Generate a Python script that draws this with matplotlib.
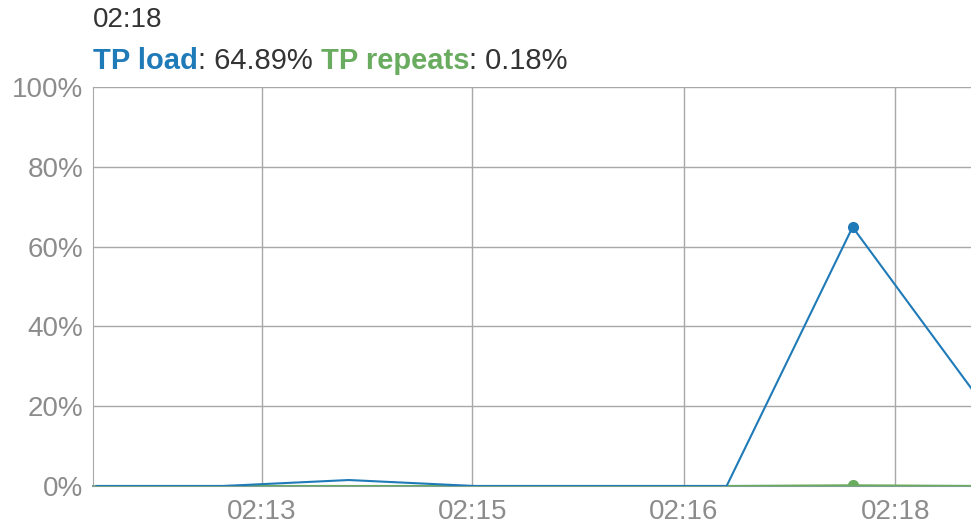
import matplotlib
matplotlib.use('Agg')
import matplotlib.pyplot as plt
from matplotlib.ticker import FuncFormatter

# samples, one per poll interval
sample_idx = [0, 1, 2, 3, 4, 5, 6, 7]
tp_load = [0.0, 0.0, 1.5, 0.0, 0.0, 0.0, 64.89, 22.0]
tp_repeats = [0.0, 0.0, 0.0, 0.0, 0.0, 0.0, 0.18, 0.0]

tick_pos = [1.31, 2.98, 4.66, 6.34]
tick_labels = ["02:13", "02:15", "02:16", "02:18"]
y_ticks = [0, 20, 40, 60, 80, 100]

hover_idx = 6
hover_time = "02:18"

BLUE = "#1f7ab8"
GREEN = "#6aac5f"
GRID = "#a8a8a8"
LABEL = "#8c8c8c"
TEXT = "#333333"
FS = 20

plt.rcParams['font.family'] = ['Liberation Sans', 'DejaVu Sans']

fig = plt.figure(figsize=(9.71, 5.24), dpi=100)
ax = fig.add_axes([0.0958, 0.0725, 0.9042, 0.7615])

ax.plot(sample_idx, tp_repeats, color=GREEN, lw=1.5, zorder=3)
ax.plot(sample_idx, tp_load, color=BLUE, lw=1.5, zorder=4)
ax.plot(hover_idx, tp_load[hover_idx], 'o', color=BLUE, ms=7, zorder=5)
ax.plot(hover_idx, tp_repeats[hover_idx], 'o', color=GREEN, ms=7, zorder=2)

ax.set_xlim(-0.03, 6.94)
ax.set_ylim(0, 100)
ax.set_xticks(tick_pos)
ax.set_xticklabels(tick_labels)
ax.set_yticks(y_ticks)
ax.yaxis.set_major_formatter(FuncFormatter(lambda v, _: f"{v:.0f}%"))

ax.grid(True, color=GRID, lw=1)
ax.set_axisbelow(True)
for side in ["top", "right"]:
    ax.spines[side].set_visible(False)
ax.spines["left"].set_color(GRID)
ax.spines["bottom"].set_color("#7f9f8f")
ax.spines["bottom"].set_linewidth(1.5)
ax.tick_params(length=0, labelsize=FS, colors=LABEL)
ax.tick_params(axis='x', pad=9)
ax.tick_params(axis='y', pad=7)

# hover readout above the plot
fig.text(0.0958, 0.962, hover_time, fontsize=FS, color=TEXT, va="center")
x0 = 0.0958
y0 = 0.884
parts = [("TP load", BLUE, "bold"), (f": {tp_load[hover_idx]:.2f}% ", TEXT, "normal"),
         ("TP repeats", GREEN, "bold"), (f": {tp_repeats[hover_idx]:.2f}%", TEXT, "normal")]
renderer = fig.canvas.get_renderer()
for txt, col, wt in parts:
    t = fig.text(x0, y0, txt, fontsize=FS + 1, color=col, fontweight=wt, va="center")
    bb = t.get_window_extent(renderer=renderer)
    x0 += bb.width / fig.bbox.width

fig.savefig("out.png", dpi=100)
